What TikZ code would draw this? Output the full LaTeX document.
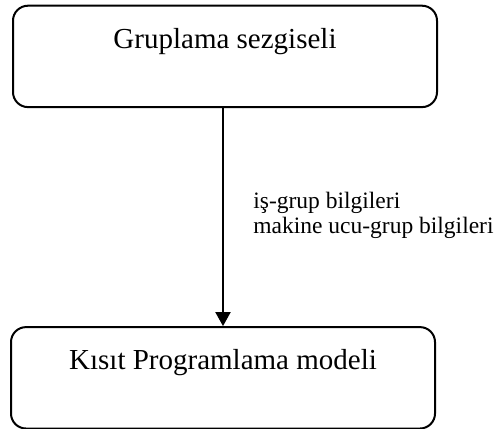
\documentclass[tikz,border=0pt]{standalone}
\usepackage{fontspec}
\setmainfont{Liberation Serif}
\usetikzlibrary{positioning,arrows.meta}

\begin{document}
\begin{tikzpicture}[
  stagebox/.style={draw=black, line width=1pt, rounded corners=7.5pt, inner sep=0pt, minimum width=212pt, font=\fontsize{14.5pt}{17pt}\selectfont, text height=21.2pt, text depth=29.5pt},
  flowlbl/.style={font=\fontsize{11.75pt}{12.5pt}\selectfont, align=left, inner sep=0pt},
  flowarrow/.style={-{Triangle[width=7.5pt,length=7pt]}, line width=1pt, black},
]
\useasboundingbox (0,0) rectangle (248pt,-214pt);
\node[stagebox] (heur) at (112.5pt,-28.2pt) {Gruplama sezgiseli};
\node[stagebox, below=109pt of heur.south, anchor=north, xshift=-1pt] (cpm) {Kısıt Programlama modeli};
\draw[flowarrow] (heur.south -| cpm.north) -- coordinate[pos=0.49] (mid) (cpm.north);
\node[flowlbl, right=15pt of mid] (info) {iş-grup bilgileri\\makine ucu-grup bilgileri};
\end{tikzpicture}
\end{document}
